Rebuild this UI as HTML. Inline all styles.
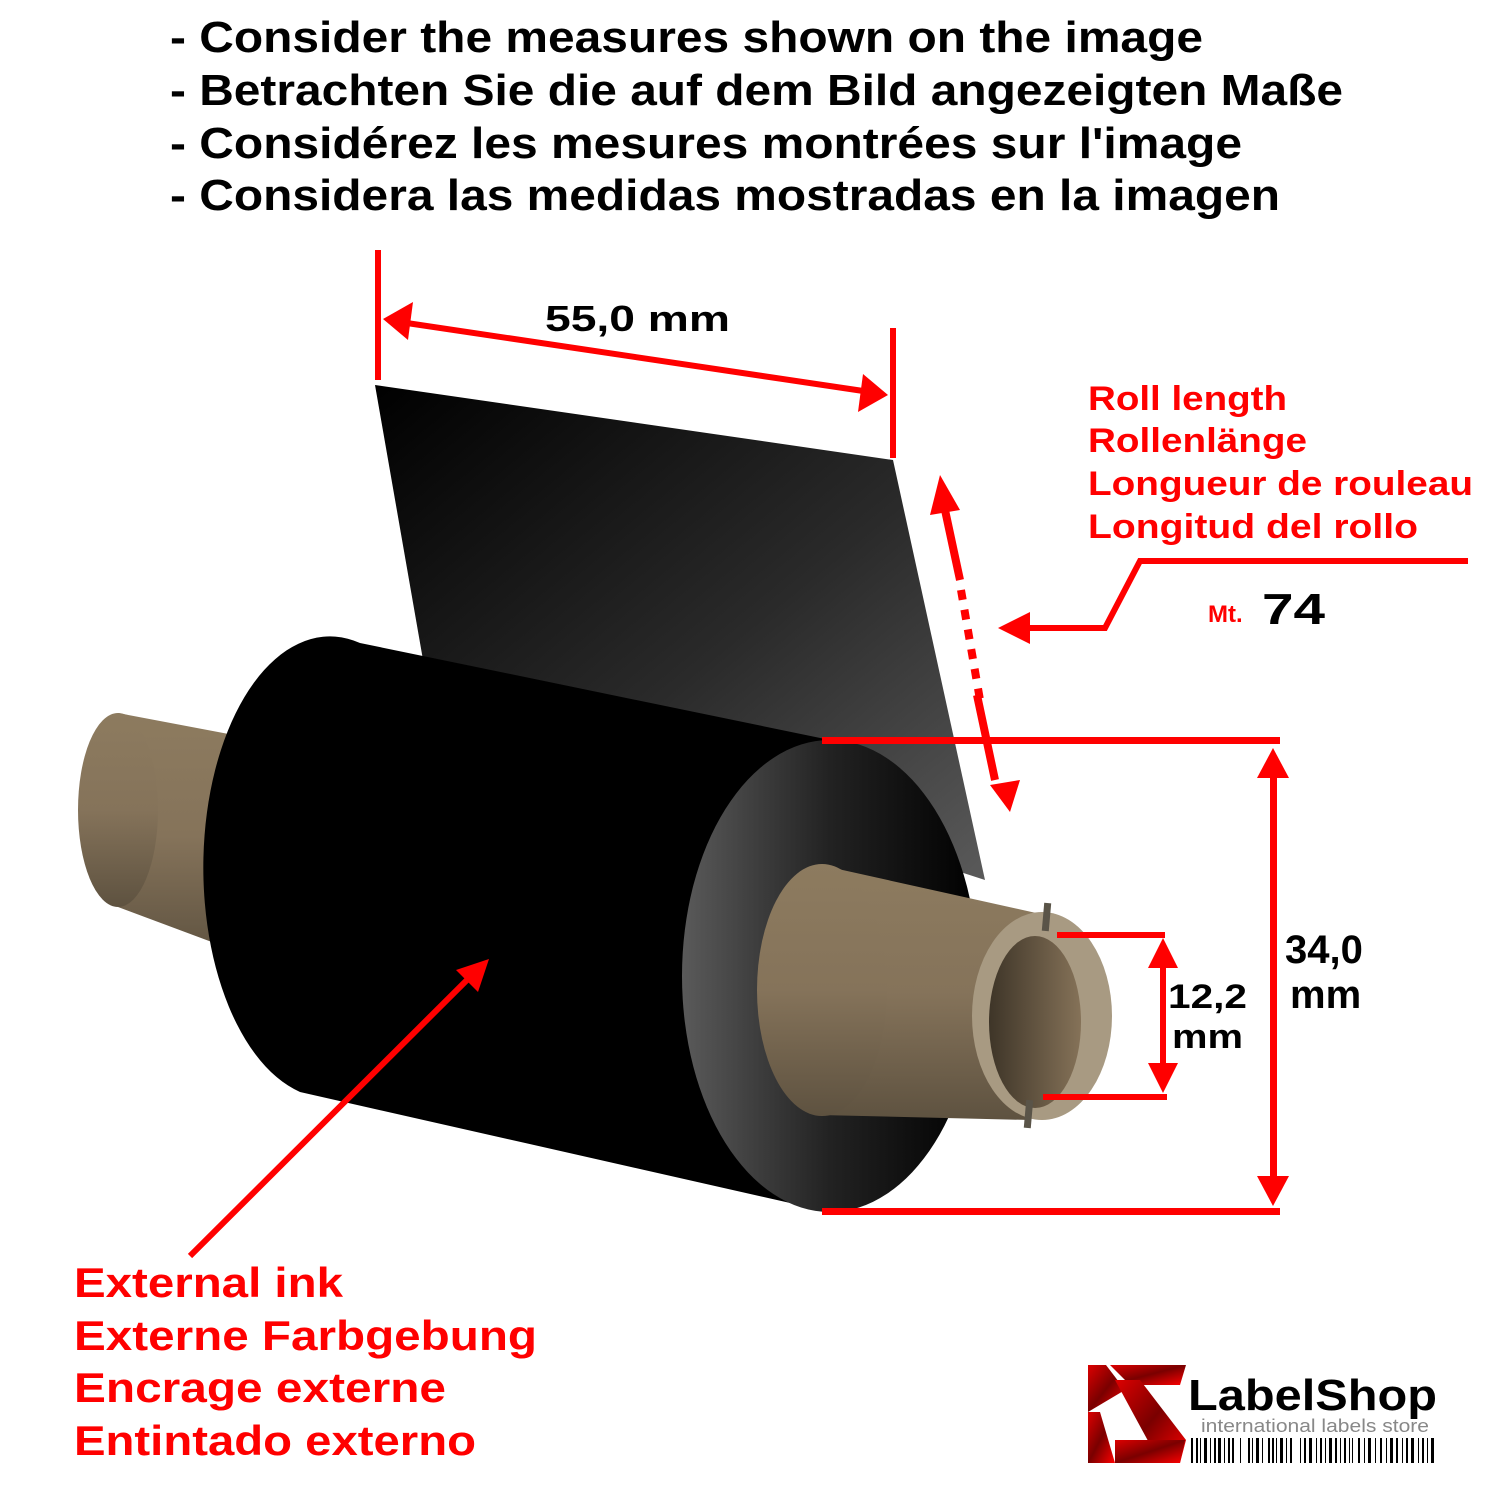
<!DOCTYPE html>
<html><head><meta charset="utf-8"><style>
html,body{margin:0;padding:0;background:#fff;}
svg{display:block;}
text{font-family:"Liberation Sans",Arial,sans-serif;font-weight:bold;}
</style></head><body>
<svg width="1500" height="1500" viewBox="0 0 1500 1500" xmlns="http://www.w3.org/2000/svg">
<defs>
<linearGradient id="sheet" x1="0" y1="0" x2="1" y2="1">
<stop offset="0" stop-color="#000"/><stop offset="0.55" stop-color="#2a2a2a"/><stop offset="1" stop-color="#5a5a5a"/>
</linearGradient>
<linearGradient id="face" x1="0" y1="0" x2="1" y2="0">
<stop offset="0" stop-color="#5a5a5a"/><stop offset="0.5" stop-color="#222"/><stop offset="1" stop-color="#000"/>
</linearGradient>
<linearGradient id="tan" x1="0" y1="0" x2="0" y2="1">
<stop offset="0" stop-color="#8d7b5f"/><stop offset="0.5" stop-color="#85735a"/><stop offset="1" stop-color="#5e5240"/>
</linearGradient>
<linearGradient id="inner" x1="0" y1="0" x2="1" y2="0">
<stop offset="0" stop-color="#3e3528"/><stop offset="1" stop-color="#857258"/>
</linearGradient>
<linearGradient id="logo" x1="0" y1="0" x2="1" y2="1">
<stop offset="0" stop-color="#d00"/><stop offset="0.5" stop-color="#7a0000"/><stop offset="1" stop-color="#f00"/>
</linearGradient>
</defs>

<text x="170" y="52" font-size="44" fill="#000" textLength="1033" lengthAdjust="spacingAndGlyphs">- Consider the measures shown on the image</text>
<text x="170" y="105" font-size="44" fill="#000" textLength="1173" lengthAdjust="spacingAndGlyphs">- Betrachten Sie die auf dem Bild angezeigten Maße</text>
<text x="170" y="158" font-size="44" fill="#000" textLength="1072" lengthAdjust="spacingAndGlyphs">- Considérez les mesures montrées sur l'image</text>
<text x="170" y="210" font-size="44" fill="#000" textLength="1110" lengthAdjust="spacingAndGlyphs">- Considera las medidas mostradas en la imagen</text>

<polygon points="375,385 893,460 985,880 430,700" fill="url(#sheet)"/>

<polygon points="118,713 260,740 260,960 118,907" fill="url(#tan)"/>
<ellipse cx="118" cy="810" rx="40" ry="97" fill="url(#tan)"/>

<path d="M360,643 L830,740 L830,1212 L300,1092 A125,228 0 0 1 360,643 Z" fill="#000"/>
<ellipse cx="830" cy="976" rx="148" ry="236" fill="url(#face)"/>

<path d="M820,865 L1045,915 L1030,1120 L820,1115 Z" fill="url(#tan)"/>
<ellipse cx="822" cy="990" rx="65" ry="126" fill="url(#tan)"/>
<ellipse cx="1042" cy="1016" rx="70" ry="104" fill="#a89a82"/>
<ellipse cx="1035" cy="1022" rx="46" ry="86" fill="url(#inner)"/>
<rect x="1043" y="903" width="7" height="28" fill="#5a5448" transform="rotate(5 1046 917)"/>
<rect x="1025" y="1100" width="7" height="28" fill="#5a5448" transform="rotate(5 1028 1114)"/>

<g fill="#f00" stroke="none">
<rect x="375" y="250" width="6" height="130"/>
<rect x="890" y="328" width="6" height="130"/>
<line x1="400" y1="322" x2="870" y2="392" stroke="#f00" stroke-width="6"/>
<polygon points="383,319 413,302 408,340"/>
<polygon points="888,395 858,412 863,374"/>
<polygon points="940,475 960,510 930,515"/>
<line x1="945" y1="510" x2="960" y2="580" stroke="#f00" stroke-width="8"/>
<line x1="961" y1="590" x2="980" y2="700" stroke="#f00" stroke-width="8" stroke-dasharray="10,10"/>
<line x1="977" y1="695" x2="995" y2="780" stroke="#f00" stroke-width="8"/>
<polygon points="1010,812 1020,780 990,785"/>
<polyline points="1468,561 1140,561 1105,628 1030,628" fill="none" stroke="#f00" stroke-width="6"/>
<polygon points="998,628 1030,612 1030,644"/>
<rect x="822" y="737" width="458" height="7"/>
<rect x="822" y="1208" width="458" height="7"/>
<rect x="1270" y="770" width="7" height="410"/>
<polygon points="1273,748 1257,778 1289,778"/>
<polygon points="1273,1206 1257,1176 1289,1176"/>
<rect x="1057" y="932" width="108" height="6"/>
<rect x="1043" y="1094" width="124" height="6"/>
<rect x="1160" y="960" width="6" height="114"/>
<polygon points="1163,938 1148,968 1178,968"/>
<polygon points="1163,1093 1148,1063 1178,1063"/>
<line x1="190" y1="1256" x2="470" y2="977" stroke="#f00" stroke-width="6"/>
<polygon points="489,959 478,992 456,970"/>
</g>

<text x="545" y="331" font-size="36" fill="#000" textLength="185" lengthAdjust="spacingAndGlyphs">55,0 mm</text>
<text x="1088" y="410" font-size="34" fill="#f00" textLength="199" lengthAdjust="spacingAndGlyphs">Roll length</text>
<text x="1088" y="452" font-size="34" fill="#f00" textLength="219" lengthAdjust="spacingAndGlyphs">Rollenlänge</text>
<text x="1088" y="495" font-size="34" fill="#f00" textLength="385" lengthAdjust="spacingAndGlyphs">Longueur de rouleau</text>
<text x="1088" y="538" font-size="34" fill="#f00" textLength="330" lengthAdjust="spacingAndGlyphs">Longitud del rollo</text>
<text x="1208" y="622" font-size="24" fill="#f00">Mt.</text>
<text x="1262" y="624" font-size="44" fill="#000" textLength="63" lengthAdjust="spacingAndGlyphs">74</text>
<text x="1285" y="963" font-size="40" fill="#000">34,0</text>
<text x="1290" y="1008" font-size="40" fill="#000">mm</text>
<text x="1168" y="1008" font-size="34" fill="#000" textLength="79" lengthAdjust="spacingAndGlyphs">12,2</text>
<text x="1172" y="1048" font-size="34" fill="#000" textLength="71" lengthAdjust="spacingAndGlyphs">mm</text>

<text x="74" y="1297" font-size="42" fill="#f00" textLength="269" lengthAdjust="spacingAndGlyphs">External ink</text>
<text x="74" y="1350" font-size="42" fill="#f00" textLength="463" lengthAdjust="spacingAndGlyphs">Externe Farbgebung</text>
<text x="74" y="1402" font-size="42" fill="#f00" textLength="372" lengthAdjust="spacingAndGlyphs">Encrage externe</text>
<text x="74" y="1455" font-size="42" fill="#f00" textLength="402" lengthAdjust="spacingAndGlyphs">Entintado externo</text>

<path d="M1088,1365 L1106,1365 L1125,1390 L1088,1412 Z" fill="url(#logo)"/>
<path d="M1110,1365 L1186,1365 L1180,1385 L1130,1385 Z" fill="url(#logo)"/>
<path d="M1115,1380 L1140,1380 L1186,1440 L1180,1463 L1160,1463 Z" fill="url(#logo)"/>
<path d="M1088,1412 L1100,1412 L1115,1463 L1088,1463 Z" fill="url(#logo)"/>
<path d="M1115,1440 L1185,1440 L1180,1463 L1115,1463 Z" fill="url(#logo)"/>
<text x="1188" y="1410" font-size="44" fill="#000" textLength="249" lengthAdjust="spacingAndGlyphs">LabelShop</text>
<text x="1201" y="1432" font-size="18" style="font-weight:normal" fill="#888" textLength="228" lengthAdjust="spacingAndGlyphs">international labels store</text>
<g fill="#000">
<rect x="1191" y="1438" width="2" height="25"/><rect x="1196" y="1438" width="2" height="25"/><rect x="1200" y="1438" width="1" height="25"/><rect x="1204" y="1438" width="3" height="25"/><rect x="1210" y="1438" width="1" height="25"/><rect x="1214" y="1438" width="2" height="25"/><rect x="1218" y="1438" width="3" height="25"/><rect x="1224" y="1438" width="1" height="25"/><rect x="1228" y="1438" width="2" height="25"/><rect x="1232" y="1438" width="2" height="25"/><rect x="1240" y="1438" width="1" height="25"/><rect x="1248" y="1438" width="2" height="25"/><rect x="1252" y="1438" width="1" height="25"/><rect x="1256" y="1438" width="3" height="25"/><rect x="1262" y="1438" width="1" height="25"/><rect x="1268" y="1438" width="2" height="25"/><rect x="1272" y="1438" width="2" height="25"/><rect x="1276" y="1438" width="1" height="25"/><rect x="1280" y="1438" width="3" height="25"/><rect x="1286" y="1438" width="1" height="25"/><rect x="1290" y="1438" width="2" height="25"/><rect x="1300" y="1438" width="1" height="25"/><rect x="1304" y="1438" width="2" height="25"/><rect x="1309" y="1438" width="3" height="25"/><rect x="1316" y="1438" width="1" height="25"/><rect x="1320" y="1438" width="2" height="25"/><rect x="1325" y="1438" width="1" height="25"/><rect x="1329" y="1438" width="3" height="25"/><rect x="1335" y="1438" width="2" height="25"/><rect x="1340" y="1438" width="1" height="25"/><rect x="1344" y="1438" width="2" height="25"/><rect x="1349" y="1438" width="1" height="25"/><rect x="1352" y="1438" width="1" height="25"/><rect x="1358" y="1438" width="2" height="25"/><rect x="1364" y="1438" width="1" height="25"/><rect x="1368" y="1438" width="3" height="25"/><rect x="1375" y="1438" width="1" height="25"/><rect x="1380" y="1438" width="2" height="25"/><rect x="1386" y="1438" width="1" height="25"/><rect x="1390" y="1438" width="3" height="25"/><rect x="1396" y="1438" width="2" height="25"/><rect x="1402" y="1438" width="1" height="25"/><rect x="1406" y="1438" width="2" height="25"/><rect x="1411" y="1438" width="3" height="25"/><rect x="1418" y="1438" width="1" height="25"/><rect x="1422" y="1438" width="2" height="25"/><rect x="1427" y="1438" width="1" height="25"/><rect x="1431" y="1438" width="3" height="25"/>
</g>
</svg>
</body></html>
